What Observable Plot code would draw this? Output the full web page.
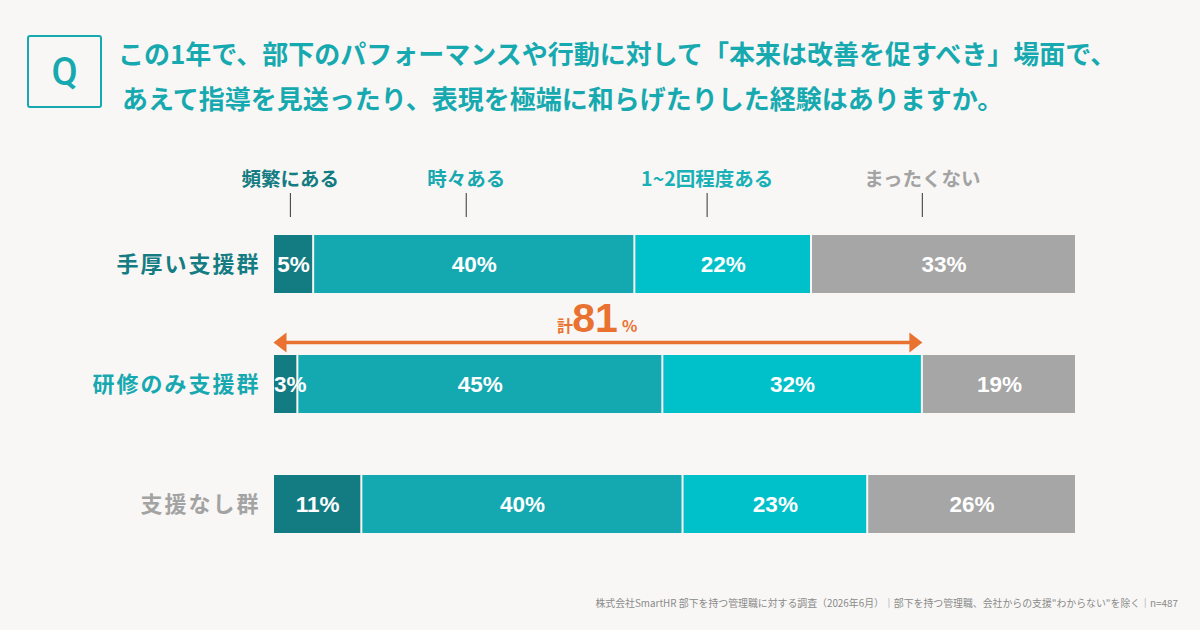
<!DOCTYPE html>
<html><head><meta charset="utf-8">
<script src="https://cdn.jsdelivr.net/npm/d3@7"></script>
<script src="https://cdn.jsdelivr.net/npm/@observablehq/plot@0.6"></script>
<style>
html,body{margin:0;padding:0;background:#f8f7f5;width:1200px;height:630px;overflow:hidden;font-family:"Noto Sans CJK JP",sans-serif;}
#wrap{position:relative;width:1200px;height:630px;}
#q{position:absolute;left:27px;top:35px;width:71px;height:69px;border:2px solid #17a9b0;border-radius:3px;color:#17a9b0;font:500 38px Roboto,"Noto Sans",sans-serif;display:flex;align-items:center;justify-content:center;}
#title{position:absolute;left:118px;top:30px;color:#17a9b0;font-weight:700;font-size:26px;line-height:45px;white-space:nowrap;}
#title .l2{margin-left:4px;}
#chart{position:absolute;left:0;top:130px;}
#note{position:absolute;right:22px;top:596px;font-size:9.9px;line-height:14px;color:#8a8a8a;white-space:nowrap;}
</style></head>
<body><div id="wrap">
<div id="q">Q</div>
<div id="title"><div>この1年で、部下のパフォーマンスや行動に対して「本来は改善を促すべき」場面で、</div><div class="l2">あえて指導を見送ったり、表現を極端に和らげたりした経験はありますか。</div></div>
<div id="chart"></div>
<div id="note">株式会社SmartHR 部下を持つ管理職に対する調査（2026年6月）｜部下を持つ管理職、会社からの支援"わからない"を除く｜n=487</div>
</div>
<script>
// ---- data ----
const categories = ["頻繁にある", "時々ある", "1~2回程度ある", "まったくない"];
const groups = ["手厚い支援群", "研修のみ支援群", "支援なし群"];
const frequent = [5, 3, 11];
const sometimes = [40, 45, 40];
const onceOrTwice = [22, 32, 23];
const never = [33, 19, 26];
const totalLabelValue = 81; // 計81%（研修のみ支援群：まったくない以外）

// ---- styles ----
const segColors = ["#127c82", "#14a9b1", "#00c1c9", "#a6a6a6"];
const legendColors = ["#147c82", "#17a8b0", "#19b0b8", "#a3a3a3"];
const rowColors = ["#147c82", "#17a8b0", "#a3a3a3"];
const orange = "#e97231";
const legendAt = [0.021, 0.24, 0.54, 0.808];

// ---- build stacked segments ----
const segs = [];
groups.forEach((g, i) => {
  const vals = [frequent[i], sometimes[i], onceOrTwice[i], never[i]];
  const total = d3.sum(vals);
  let cum = 0;
  vals.forEach((v, j) => {
    segs.push({group: g, cat: categories[j], value: v, x1: cum / total, x2: (cum + v) / total});
    cum += v;
  });
});
const row2 = segs.filter(d => d.group === groups[1]);
const arrowEnd = row2[2].x2;

const rightHead = {draw(ctx) { ctx.moveTo(7, 0); ctx.lineTo(-6, -10); ctx.lineTo(-6, 10); ctx.closePath(); }};
const leftHead = {draw(ctx) { ctx.moveTo(-7, 0); ctx.lineTo(6, -10); ctx.lineTo(6, 10); ctx.closePath(); }};

const jp = "Noto Sans CJK JP, sans-serif";
const chart = Plot.plot({
  width: 1200, height: 460,
  marginLeft: 273, marginRight: 124, marginTop: 105, marginBottom: 57,
  style: {background: "transparent", overflow: "visible"},
  x: {domain: [0, 1], axis: null},
  y: {domain: groups, axis: null, paddingInner: 0.5167, paddingOuter: 0},
  color: {domain: categories, range: segColors},
  marks: [
    Plot.barX(segs, {x1: "x1", x2: "x2", y: "group", fill: "cat", insetLeft: 1, insetRight: 1}),
    Plot.text(segs, {
      x: d => Math.max((d.x1 + d.x2) / 2, d.x1 + 0.021), y: "group",
      text: d => d.value + "%", fill: "white", fontSize: 22.5, fontWeight: "bold",
      fontFamily: "Liberation Sans, Arial, sans-serif"
    }),
    ...groups.map((g, i) => Plot.text([g], {
      y: d => d, text: d => d, frameAnchor: "left", textAnchor: "end", dx: -13,
      fill: rowColors[i], fontSize: 22, fontWeight: "bold", fontFamily: jp
    })),
    ...categories.map((c, j) => Plot.text([c], {
      x: () => legendAt[j], text: d => d, frameAnchor: "top", dy: -63,
      fill: legendColors[j], fontSize: 19.5, fontWeight: "bold", fontFamily: jp
    })),
    Plot.ruleX(legendAt, {x: d => d, stroke: "#333", strokeWidth: 1, insetTop: -42, insetBottom: 316}),
    Plot.ruleY([groups[1]], {y: d => d, x1: 0, x2: arrowEnd, dy: -42, stroke: orange, strokeWidth: 3.3, insetLeft: 6, insetRight: 6}),
    Plot.dot([0], {x: d => d, y: () => groups[1], dy: -42, dx: 7, symbol: leftHead, r: 5, fill: orange, stroke: "none"}),
    Plot.dot([arrowEnd], {x: d => d, y: () => groups[1], dy: -42, dx: -7, symbol: rightHead, r: 5, fill: orange, stroke: "none"}),
    Plot.text([totalLabelValue], {x: () => arrowEnd / 2, y: () => groups[1], text: d => String(d), dy: -66, dx: -3,
      fill: orange, fontSize: 41, fontWeight: "bold", fontFamily: "Liberation Sans, Arial, sans-serif"}),
    Plot.text(["計"], {x: () => arrowEnd / 2, y: () => groups[1], text: d => d, dy: -58, dx: -25, textAnchor: "end",
      fill: orange, fontSize: 16, fontWeight: "bold", fontFamily: jp}),
    Plot.text(["%"], {x: () => arrowEnd / 2, y: () => groups[1], text: d => d, dy: -58, dx: 24, textAnchor: "start",
      fill: orange, fontSize: 16, fontWeight: "bold", fontFamily: jp})
  ]
});
chart.querySelectorAll("text").forEach(t => {
  if (groups.includes(t.textContent)) t.style.letterSpacing = "2px";
});
document.getElementById("chart").appendChild(chart);
</script>
</body></html>
